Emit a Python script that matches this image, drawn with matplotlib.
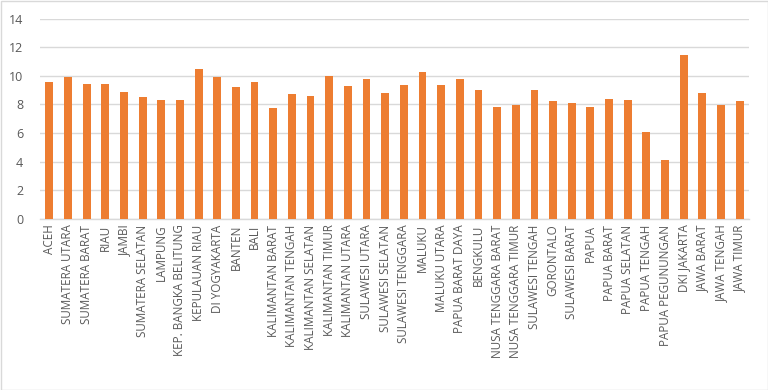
import matplotlib
matplotlib.use("Agg")
import matplotlib.pyplot as plt
import numpy as np

provinces = ["ACEH", "SUMATERA UTARA", "SUMATERA BARAT", "RIAU", "JAMBI",
             "SUMATERA SELATAN", "LAMPUNG", "KEP. BANGKA BELITUNG", "KEPULAUAN RIAU",
             "DI YOGYAKARTA", "BANTEN", "BALI", "KALIMANTAN BARAT", "KALIMANTAN TENGAH",
             "KALIMANTAN SELATAN", "KALIMANTAN TIMUR", "KALIMANTAN UTARA", "SULAWESI UTARA",
             "SULAWESI SELATAN", "SULAWESI TENGGARA", "MALUKU", "MALUKU UTARA",
             "PAPUA BARAT DAYA", "BENGKULU", "NUSA TENGGARA BARAT", "NUSA TENGGARA TIMUR",
             "SULAWESI TENGAH", "GORONTALO", "SULAWESI BARAT", "PAPUA", "PAPUA BARAT",
             "PAPUA SELATAN", "PAPUA TENGAH", "PAPUA PEGUNUNGAN", "DKI JAKARTA",
             "JAWA BARAT", "JAWA TENGAH", "JAWA TIMUR"]
values = [9.59, 9.94, 9.40, 9.40, 8.87, 8.54, 8.33, 8.33, 10.45, 9.92, 9.20, 9.55,
          7.77, 8.75, 8.59, 9.96, 9.31, 9.80, 8.82, 9.36, 10.24, 9.36, 9.80, 9.03,
          7.82, 7.98, 9.03, 8.26, 8.08, 7.82, 8.36, 8.31, 6.05, 4.12, 11.45, 8.80,
          7.98, 8.26]
yticks = [0, 2, 4, 6, 8, 10, 12, 14]

plt.rcParams['font.family'] = ['Open Sans', 'DejaVu Sans']
fig = plt.figure(figsize=(7.68, 3.90), dpi=100)
ax = fig.add_axes([40/768, 1-219/390, 709/768, (219-18.5)/390])

x = np.arange(len(provinces))
ax.bar(x, values, width=0.42, color='#ED7D31', zorder=3)
ax.set_xlim(-0.5, len(provinces)-0.5)
ax.set_ylim(0, 14)
ax.set_yticks(yticks)
ax.set_yticklabels([str(t) for t in yticks])
ax.set_xticks(x)
ax.set_xticklabels(provinces, rotation=90, ha='center', va='top')
ax.tick_params(axis='both', length=0, colors='#595959')
ax.tick_params(axis='x', labelsize=8.4, pad=4)
ax.tick_params(axis='y', labelsize=9, pad=12)
ax.grid(axis='y', color='#D9D9D9', linewidth=1.0, zorder=0)
for s in ['left', 'right', 'top']:
    ax.spines[s].set_visible(False)
ax.spines['bottom'].set_color('#D9D9D9')
ax.spines['bottom'].set_linewidth(1.0)

fig.patches.append(plt.Rectangle((0.5/768, 0.5/390), 1-1/768, 1-1/390, transform=fig.transFigure,
                                 fill=False, edgecolor='#D9D9D9', linewidth=1.0))
fig.savefig('out.png', dpi=100)
